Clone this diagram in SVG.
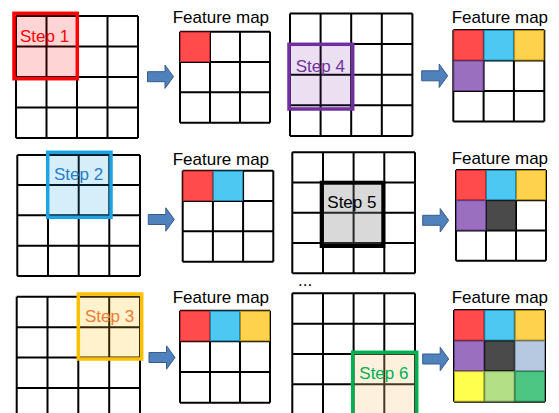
<svg xmlns="http://www.w3.org/2000/svg" width="559" height="413" viewBox="0 0 559 413">
<style>
.g{fill:none;stroke:#000;stroke-width:2}
.t{font-family:"Liberation Sans",Arial,sans-serif;font-size:17px}
.c{stroke-width:1}
.r{fill:#ff4b4b;stroke:#c42a2c}
.b{fill:#4dc8f2;stroke:#1f8ab0}
.y{fill:#ffd24d;stroke:#b8900f}
.p{fill:#9b6fbf;stroke:#6a3f90}
.d{fill:#4a4a4a;stroke:#1a1a1a}
.lb{fill:#b6c9e0;stroke:#7f93ad}
.y2{fill:#ffff4d;stroke:#b0a820}
.lg{fill:#b3df86;stroke:#7fa25a}
.gr{fill:#4dc683;stroke:#2a9055}
.arr{fill:#4f81bd;stroke:#385d8a;stroke-width:1}
</style>
<defs>
<path id="arrow" d="M0,-5 H17.5 V-11.7 L26,0 L17.5,11.7 V5 H0 Z"/>
</defs>
<rect width="559" height="413" fill="#fff"/>

<!-- Panel 1 -->
<g id="input1">
<path class="g" d="M16,16H138M16,46.5H138M16,77H138M16,107.5H138M16,138H138M16,16V138M46.5,16V138M77,16V138M107.5,16V138M138,16V138"/>
<rect x="14" y="13.3" width="63.3" height="65.4" fill="#ff0000" fill-opacity="0.17" stroke="#ff0000" stroke-width="3.5"/>
<text class="t" x="20" y="41.7" fill="#ff0000">Step 1</text>
</g>
<g id="fmap1">
<text class="t" x="172.7" y="23.3">Feature map</text>
<path class="g" d="M180,31.7H270M180,62H270M180,92.3H270M180,122.7H270M180,31.7V122.7M210,31.7V122.7M240,31.7V122.7M270,31.7V122.7"/>
<rect class="c r" x="180.5" y="32.2" width="29" height="29.3"/>
</g>

<!-- Panel 2 (step 4) -->
<g id="input4">
<path class="g" d="M290,13.5H412.4M290,44.1H412.4M290,74.7H412.4M290,105.3H412.4M290,135.9H412.4M290,13.5V135.9M320.6,13.5V135.9M351.2,13.5V135.9M381.8,13.5V135.9M412.4,13.5V135.9"/>
<rect x="289" y="44.3" width="63.7" height="64.7" fill="#7030a0" fill-opacity="0.15" stroke="#7030a0" stroke-width="3.5"/>
<text class="t" x="295.7" y="71.7" fill="#7030a0">Step 4</text>
</g>
<g id="fmap4">
<text class="t" x="451.7" y="23.3">Feature map</text>
<path class="g" d="M453.3,30H544.3M453.3,60.5H544.3M453.3,91H544.3M453.3,121.5H544.3M453.3,30V121.5M483.6,30V121.5M513.9,30V121.5M544.3,30V121.5"/>
<rect class="c r" x="453.8" y="30.5" width="29.3" height="29.5"/>
<rect class="c b" x="484.1" y="30.5" width="29.3" height="29.5"/>
<rect class="c y" x="514.4" y="30.5" width="29.4" height="29.5"/>
<rect class="c p" x="453.8" y="61" width="29.3" height="29.5"/>
</g>

<!-- Panel 3 (step 2) -->
<g id="input2">
<path class="g" d="M17.3,155H140M17.3,185H140M17.3,215.3H140M17.3,245.7H140M17.3,276H140M17.3,155V276M48,155V276M78.7,155V276M109.3,155V276M140,155V276"/>
<rect x="47.7" y="152.3" width="63.3" height="65" fill="#1ca3e3" fill-opacity="0.18" stroke="#1ca3e3" stroke-width="3.5"/>
<text class="t" x="54" y="180" fill="#1f7fcc">Step 2</text>
</g>
<g id="fmap2">
<text class="t" x="172.7" y="165">Feature map</text>
<path class="g" d="M182.7,170.7H273.3M182.7,201H273.3M182.7,231.3H273.3M182.7,261.7H273.3M182.7,170.7V261.7M212.9,170.7V261.7M243.1,170.7V261.7M273.3,170.7V261.7"/>
<rect class="c r" x="183.2" y="171.2" width="29.2" height="29.3"/>
<rect class="c b" x="213.4" y="171.2" width="29.2" height="29.3"/>
</g>

<!-- Panel 4 (step 5) -->
<g id="input5">
<path class="g" d="M292.3,152.3H415M292.3,182.6H415M292.3,212.8H415M292.3,243.1H415M292.3,273.3H415M292.3,152.3V273.3M323,152.3V273.3M353.6,152.3V273.3M384.3,152.3V273.3M415,152.3V273.3"/>
<rect x="321.7" y="182.7" width="61.6" height="63.3" fill="#808080" fill-opacity="0.3" stroke="#000" stroke-width="4"/>
<text class="t" x="327.3" y="208.3" fill="#000">Step 5</text>
</g>
<g id="fmap5">
<text class="t" x="451.7" y="164">Feature map</text>
<path class="g" d="M456,170H546M456,200.2H546M456,230.5H546M456,260.7H546M456,170V260.7M486,170V260.7M516,170V260.7M546,170V260.7"/>
<rect class="c r" x="456.5" y="170.5" width="29" height="29.2"/>
<rect class="c b" x="486.5" y="170.5" width="29" height="29.2"/>
<rect class="c y" x="516.5" y="170.5" width="29" height="29.2"/>
<rect class="c p" x="456.5" y="200.7" width="29" height="29.3"/>
<rect class="c d" x="486.5" y="200.7" width="29" height="29.3"/>
</g>

<!-- Panel 5 (step 3) -->
<g id="input3">
<path class="g" d="M16.7,296.7H140M16.7,327.2H140M16.7,357.5H140M16.7,388H140M16.7,296.7V420M47.5,296.7V420M78.3,296.7V420M109.2,296.7V420M140,296.7V420"/>
<rect x="78.3" y="294" width="63.4" height="65" fill="#ffc000" fill-opacity="0.2" stroke="#ffc000" stroke-width="3.5"/>
<text class="t" x="85" y="322.3" fill="#ed7d31">Step 3</text>
</g>
<g id="fmap3">
<text class="t" x="172.7" y="303.3">Feature map</text>
<path class="g" d="M180,310.7H270M180,341.3H270M180,372H270M180,402.7H270M180,310.7V402.7M210,310.7V402.7M240,310.7V402.7M270,310.7V402.7"/>
<rect class="c r" x="180.5" y="311.2" width="29" height="29.6"/>
<rect class="c b" x="210.5" y="311.2" width="29" height="29.6"/>
<rect class="c y" x="240.5" y="311.2" width="29" height="29.6"/>
</g>

<!-- Panel 6 (step 6) -->
<g id="input6">
<text class="t" x="298" y="286">...</text>
<path class="g" d="M292.3,293.3H415M292.3,323.8H415M292.3,354H415M292.3,384.3H415M292.3,293.3V420M323,293.3V420M353.6,293.3V420M384.3,293.3V420M415,293.3V420"/>
<rect x="352.7" y="352.3" width="64" height="70" fill="#f8c880" fill-opacity="0.28" stroke="#00b050" stroke-width="3.5"/>
<text class="t" x="359.3" y="379.3" fill="#00b050">Step 6</text>
</g>
<g id="fmap6">
<text class="t" x="451.7" y="303.3">Feature map</text>
<path class="g" d="M454,310H545M454,340.6H545M454,371.1H545M454,401.7H545M454,310V401.7M484.3,310V401.7M514.7,310V401.7M545,310V401.7"/>
<rect class="c r" x="454.5" y="310.5" width="29.3" height="29.6"/>
<rect class="c b" x="484.8" y="310.5" width="29.4" height="29.6"/>
<rect class="c y" x="515.2" y="310.5" width="29.3" height="29.6"/>
<rect class="c p" x="454.5" y="341.1" width="29.3" height="29.5"/>
<rect class="c d" x="484.8" y="341.1" width="29.4" height="29.5"/>
<rect class="c lb" x="515.2" y="341.1" width="29.3" height="29.5"/>
<rect class="c y2" x="454.5" y="371.6" width="29.3" height="29.6"/>
<rect class="c lg" x="484.8" y="371.6" width="29.4" height="29.6"/>
<rect class="c gr" x="515.2" y="371.6" width="29.3" height="29.6"/>
</g>

<g id="connectors">
<use href="#arrow" class="arr" x="147.5" y="76.7"/>
<use href="#arrow" class="arr" x="421.7" y="75.8"/>
<use href="#arrow" class="arr" x="148.3" y="219.5"/>
<use href="#arrow" class="arr" x="422.7" y="220.3"/>
<use href="#arrow" class="arr" x="149" y="357.5"/>
<use href="#arrow" class="arr" x="422.7" y="359"/>
</g>
</svg>
